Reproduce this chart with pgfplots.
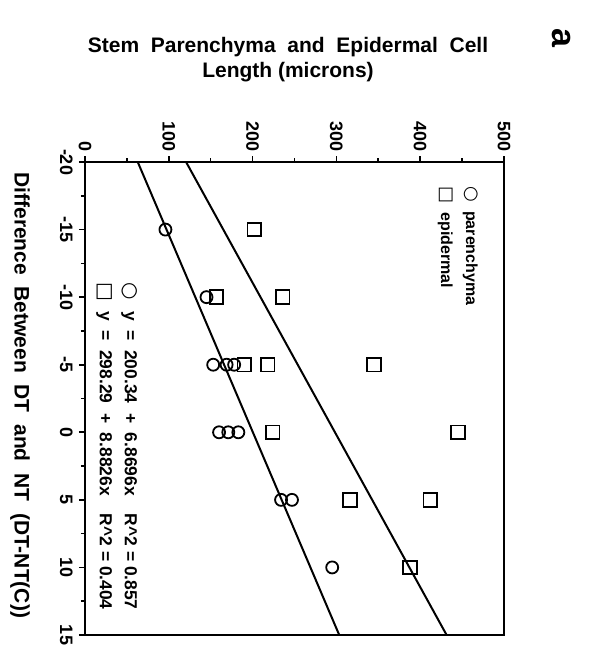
\documentclass[border=0pt]{standalone}
\usepackage{pgfplots}
\pgfplotsset{compat=1.18}
\usepackage{fontspec}
\setmainfont{Liberation Sans}
\newfontfamily\dejavu{DejaVu Sans}
\begin{document}
\begin{tikzpicture}
\path[use as bounding box] (-42.5pt,-12pt) rectangle (252pt,317.5pt);
\begin{axis}[
  scale only axis,
  width=209.5pt, height=236.5pt,
  at={(0,0)}, anchor=south west,
  xmin=0, xmax=500, ymin=-20, ymax=15,
  y dir=reverse,
  xtick={0,100,200,300,400,500},
  ytick={-20,-15,-10,-5,0,5,10,15},
  minor x tick num=1, minor y tick num=1,
  xtick pos=right, xticklabel pos=right,
  ytick pos=left,
  tick align=outside,
  major tick length=3pt, minor tick length=2pt,
  every tick/.style={black, line width=0.8pt},
  axis line style={line width=1.2pt},
  /pgf/number format/assume math mode=true,
  ticklabel style={font=\bfseries\fontsize{9}{10}\selectfont},
  xticklabel style={rotate=-90, anchor=east, inner sep=2pt},
  yticklabel style={rotate=-90, anchor=north, inner sep=3pt},
  clip=false,
]
% parenchyma (length, difference)
\addplot[only marks, mark=o, mark size=3pt, mark options={line width=0.9pt}] coordinates {
  (96,-15) (145,-10) (153,-5) (169,-5) (178,-5)
  (160,0) (171,0) (183,0) (234,5) (247,5) (295,10)
};
% epidermal
\addplot[only marks, mark=square, mark size=3.4pt, mark options={line width=0.9pt}] coordinates {
  (202,-15) (157,-10) (236,-10) (190,-5) (218,-5) (345,-5)
  (224,0) (445,0) (316,5) (412,5) (388,10)
};
% regression lines
\addplot[line width=1pt] coordinates {(62.95,-20) (303.39,15)};
\addplot[line width=1pt] coordinates {(120.64,-20) (431.53,15)};
% texts
\node[font=\bfseries\fontsize{10.5}{12.5}\selectfont, align=center] at (axis description cs:0.4845,1.2156)
  {Stem\ \ Parenchyma\ \ and\ \ Epidermal\ \ Cell\\Length (microns)};
\node[rotate=-90, font=\bfseries\fontsize{17}{17}\selectfont] at (axis description cs:1.138,1.262) {a};
\node[rotate=-90, font=\bfseries\fontsize{10.5}{11}\selectfont] at (axis description cs:-0.155,0.507)
  {Difference\ \ Between\ \ DT\ \ and\ \ NT\ \ (DT-NT(C))};
\node[rotate=-90, anchor=north west, inner sep=0pt, font=\bfseries\fontsize{8}{12.5}\selectfont, align=left]
  at (axis description cs:0.938,0.949)
  {{\dejavu\fontsize{9}{12.5}\selectfont ○}\ \ parenchyma\\{\dejavu\fontsize{9}{12.5}\selectfont □}\ \ epidermal};
\node[rotate=-90, anchor=north west, inner sep=0pt, font=\bfseries\fontsize{8.7}{12.5}\selectfont]
  at (axis description cs:0.138,0.746)
  {\begin{tabular}{@{}l@{\ \ }l@{\hspace{9pt}}l@{}}
   {\dejavu\fontsize{10}{12.5}\selectfont ○} & y\ \ =\ \ 200.34\ \ +\ \ 6.8696x & R\textasciicircum 2 = 0.857\\
   {\dejavu\fontsize{10}{12.5}\selectfont □} & y\ \ =\ \ 298.29\ \ +\ \ 8.8826x & R\textasciicircum 2 = 0.404
   \end{tabular}};
\end{axis}
\end{tikzpicture}
\end{document}
